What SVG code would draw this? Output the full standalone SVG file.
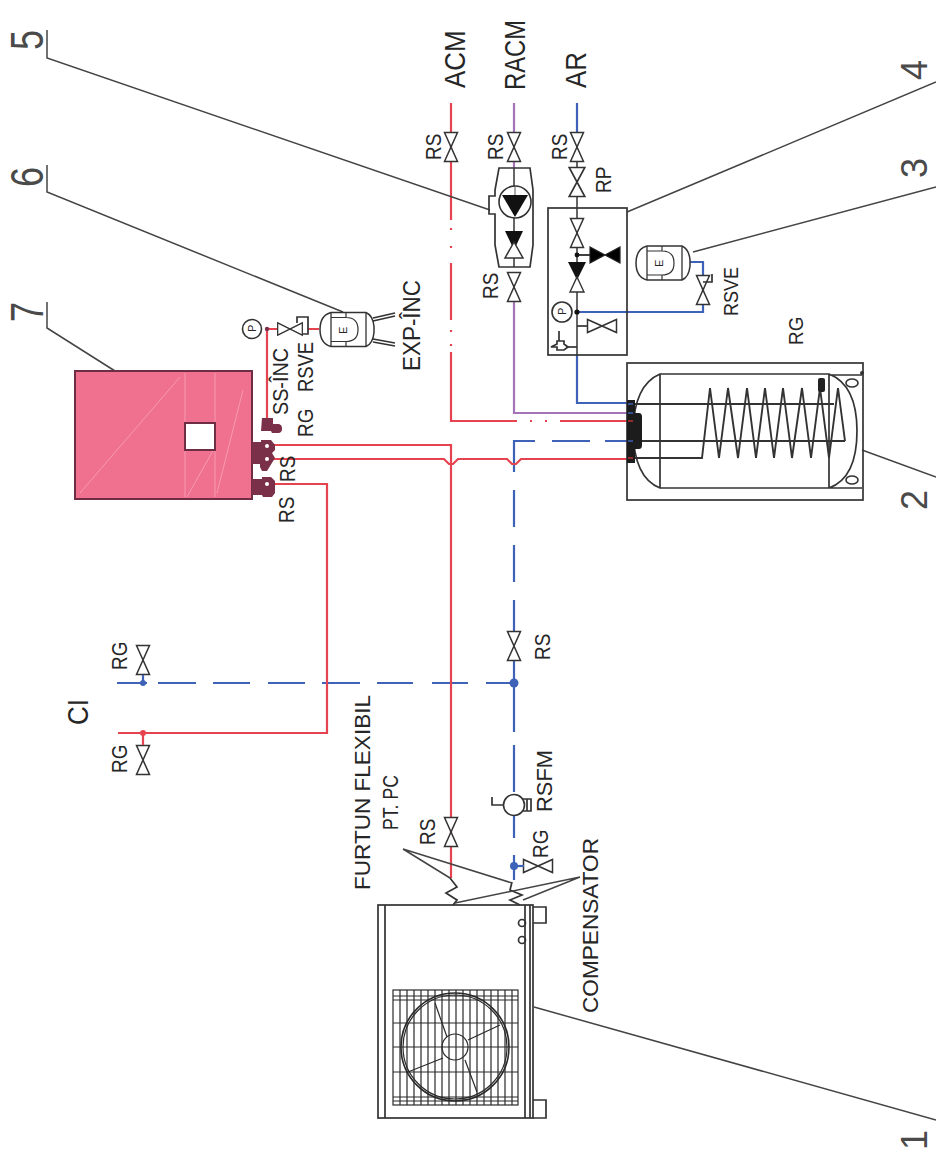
<svg xmlns="http://www.w3.org/2000/svg" width="936" height="1151" viewBox="0 0 936 1151">
<style>
text{font-family:"Liberation Sans",Arial,sans-serif;fill:#262626;font-size:19px}
.k{fill:none;stroke:#333;stroke-width:1.7}
.kf{fill:#fff;stroke:#333;stroke-width:1.6}
.l{fill:none;stroke:#444;stroke-width:1.5}
.r{fill:none;stroke:#e5434f;stroke-width:2.2}
.b{fill:none;stroke:#3d62b8;stroke-width:2.2}
.p{fill:none;stroke:#a474b8;stroke-width:2.2}
.m{fill:#7a3048}
.g{stroke:#2a2a2a;stroke-width:1.2;fill:none}
.big{font-size:26px}
.num{font-size:36px;fill:#4a4a4a}
</style>
<defs>
<g id="v"><path d="M-6.5-14.5H6.5L-6.5 14.5H6.5Z" fill="#fff" stroke="#333" stroke-width="1.5"/></g>
<g id="vk"><path d="M-8-15H8L-8 15H8Z" fill="#000" stroke="#222" stroke-width="1.2"/></g>
<g id="exp"><path d="M-15-17H20Q27-14 28-3V3Q27 14 20 17H-15Q-26 14-26 0Q-26-14-15-17Z" fill="#fff" stroke="#333" stroke-width="1.5"/><path d="M-15-17V17M20-17V17" stroke="#333" stroke-width="1.3"/><path d="M-15-12H0V-17M-15 12H0V17M0-12Q12-12 12 0Q12 12 0 12" fill="none" stroke="#333" stroke-width="1.2"/></g>
</defs>

<g id="connectors">
<path class="r" d="M451 103V220M451 263V320M451 352V421H517M560 421H627"/>
<path class="r" d="M451 228v2M451 246v2M451 330v2M451 344v2M530 421h2M545 421h2"/>
<path class="p" d="M514 103V132M514 162V168M514 302V413H627"/>
<path class="b" d="M577 103V132M577 355V403H627"/>
<path class="b" d="M577 312H703V262H688"/>
<path class="b" d="M535 441H514V472M552 441H590M605 441H627M514 490V527M514 545V582M514 600V632"/>
<path class="b" d="M117 683H147M158 683H196M213 683H250M268 683H305M322 683H360M377 683H413M432 683H468M486 683H514"/>
<path class="b" d="M514 660V732M514 745V792M514 814V838M514 855V880"/>
<path class="r" d="M272 445H451V878"/>
<path class="r" d="M272 459H444L449 464H453L458 459H507L512 464H516L521 459H627"/>
<path class="r" d="M272 484H327V733H118"/>
<path class="r" d="M267 418V329H278M308 329H319"/>
<path d="M450 878l7 9-11 6 11 7-4 5M512 882l-2 8 12 5-12 5 10 5" fill="none" stroke="#333" stroke-width="1.7"/>
<path class="l" d="M403 849L450 878M403 849L512 883M580 877L455 903M580 877L523 900"/>
<path class="l" d="M47 302V328L115 371M47 30V58L490 210M47 165V192L343 312M936 82L627 212M936 187L693 252M936 477L862 450M936 1120L534 1007"/>
</g>

<g id="boiler">
<rect x="75" y="371" width="177" height="128" fill="#f0708f" stroke="#6e2d45" stroke-width="2"/>
<path d="M80 493L180 377M187 497L215 447M217 493L243 390M185 373V497M215 373V497" stroke="#f79ab2" stroke-width="1" fill="none"/>
<rect x="185" y="423" width="30" height="27" fill="#fff" stroke="#6e2d45" stroke-width="2"/>
<path class="m" d="M262 418h11v6h6a4.500 4.500 0 0 1 3 4.500 4.500 4.500 0 0 1-3 4.500h-7l-1-2h-10zM252 442h9v-2h10l4 5v5l-3 3 3 5-8 13h-5l-2-4v-3h-8zM252 479h10v-2h9l4 4v12l-3 4h-9l-1-2h-10z"/>
<circle cx="267" cy="446" r="2" fill="#fff"/><circle cx="267" cy="459" r="2" fill="#fff"/><circle cx="267" cy="484" r="2" fill="#fff"/>
</g>

<g id="exp-inc">
<circle cx="252" cy="329" r="9.500" class="kf"/>
<text transform="translate(256 332) rotate(-90)" style="font-size:11px">P</text>
<circle cx="267" cy="329" r="2.200" fill="#7a3048"/>
<use href="#v" transform="translate(290 329) rotate(90) scale(.95 .85)"/>
<path class="k" d="M297 323V317H308V334H303"/>
<use href="#exp" transform="translate(346 329.500)"/>
<text transform="translate(347 334) rotate(-90)" style="font-size:11px">E</text>
<path d="M373 318L395 313M373 321L395 316M373 339L395 343M373 342L395 346" class="k"/>
</g>

<g id="storage-tank">
<rect x="627" y="363" width="236" height="137" class="k"/>
<path class="k" d="M633 431Q634 385 660 374H829Q857 385 857 431Q857 478 829 488H660Q634 478 633 431M660 374V488M829 374V488M829 375H862M829 488H862"/>
<path fill="none" stroke="#333" stroke-width="1.900" d="M627 404H834M627 441H845M627 458H702L710 388L719 458L728 388L738 458L747 388L756 458L765 388L774 458L783 388L792 458L802 388L811 458L820 388L829 458L838 388L845 441"/>
<ellipse cx="852" cy="383" rx="6" ry="4" class="kf"/><ellipse cx="852" cy="480" rx="6" ry="4" class="kf"/>
<rect x="818" y="378" width="7" height="14" rx="2" fill="#222"/>
<circle cx="862" cy="373" r="2" fill="#333"/>
<path fill="#1c1c1c" d="M627 400H635V413H639Q642 413 642 417V445Q642 449 639 449H635V463H627Z"/>
<path d="M628 404h5M628 413h5M628 441h5" stroke="#3d62b8" stroke-width="1.500"/>
<path d="M628 458h5M628 421h5" stroke="#b33" stroke-width="1.500"/>
</g>

<g id="pump-group">
<path class="k" d="M499 168H530L533 190V245L530 267H499L495 245V214H489V196H495V190Z"/>
<path d="M514 168V267" stroke="#333" stroke-width="1.500"/>
<circle cx="515" cy="202" r="16" class="kf"/>
<path d="M502 195H528L515 217Z" fill="#111"/>
<path d="M515 186V195" stroke="#555"/>
<path d="M505 231H523L514 250Z" fill="#111"/>
<path d="M514 242L523 258H505Z" fill="#fff" stroke="#333" stroke-width="1.500"/>
</g>

<g id="safety-group">
<rect x="548" y="208" width="79" height="147" class="k"/>
<path d="M577 162V355" stroke="#333" stroke-width="1.500"/>
<use href="#v" x="577" y="233"/>
<path d="M577 255H590" stroke="#111" stroke-width="1.600"/>
<use href="#vk" transform="translate(605 255) rotate(90)"/>
<circle cx="577" cy="255" r="2.400" fill="#111"/>
<path d="M568 262H586L577 280Z" fill="#111"/>
<path d="M577 277L584 292H570Z" fill="#fff" stroke="#333" stroke-width="1.400"/>
<circle cx="577" cy="312" r="2.600" fill="#111"/>
<circle cx="562" cy="312" r="10" class="kf"/>
<text transform="translate(566 315) rotate(-90)" style="font-size:11px">P</text>
<path d="M577 326H587" class="k"/>
<use href="#v" transform="translate(602 326) rotate(90)"/>
<path d="M577 347H566" class="k"/>
<path d="M551 347l6-3v-3h7v3l4 3-4 3h-7v-3zM559 341v-10" class="k"/>
</g>

<g id="expansion-tank-3">
<use href="#exp" transform="translate(662 263)"/>
<text transform="translate(663 267) rotate(-90)" style="font-size:11px">E</text>
</g>

<g id="heat-pump">
<rect x="378" y="905" width="155" height="213" class="k"/>
<path class="k" d="M385 905V1118M525 905V1118M530 905V1118"/>
<path class="k" d="M533 907H546V923H533M533 1100H546V1118H533"/>
<circle cx="522" cy="923" r="3.500" class="k"/><circle cx="522" cy="940" r="3.500" class="k"/>
<g class="g">
<rect x="393" y="990" width="125" height="115"/>
<path d="M400 990V1105M407 990V1105M414 990V1105M421 990V1105M428 990V1105M435 990V1105M442 990V1105M449 990V1105M456 990V1105M463 990V1105M470 990V1105M477 990V1105M484 990V1105M491 990V1105M498 990V1105M505 990V1105M512 990V1105"/>
<path d="M393 996H518M393 1000H518M393 1023H518M393 1047H518M393 1072H518M393 1097H518M393 1101H518"/>
<circle cx="455" cy="1047" r="54" stroke-width="1.600"/><circle cx="455" cy="1047" r="52"/>
<circle cx="455" cy="1047" r="13"/>
<path d="M435 1003L447 1037M500 1025L468 1040M408 1072L443 1058M477 1092L465 1060"/>
</g>
</g>

<g id="valves">
<use href="#v" x="451" y="147"/><use href="#v" x="514" y="147"/><use href="#v" x="577" y="147"/>
<use href="#v" transform="translate(577 182) scale(1.2 1)"/>
<use href="#v" x="514" y="287"/>
<use href="#v" x="703" y="290"/>
<path class="k" d="M703 282H712V274"/>
<use href="#v" x="143" y="660"/><use href="#v" x="143" y="760"/>
<use href="#v" x="514" y="646"/><use href="#v" x="451" y="832"/>
<use href="#v" transform="translate(538 866) rotate(90)"/>
<path class="b" d="M514 866H524"/>
<path class="b" d="M143 675V683"/><path class="r" d="M143 733V745"/>
<circle cx="143" cy="683" r="3" fill="#3d62b8"/><circle cx="143" cy="733" r="3" fill="#e5434f"/>
<circle cx="514" cy="683" r="4.500" fill="#3d62b8"/><circle cx="514" cy="866" r="4" fill="#3d62b8"/>
</g>

<g id="rsfm">
<circle cx="514" cy="805" r="10.500" class="kf"/>
<path class="k" d="M503 805H492V797M523 799h8v12h-8M527 799v12"/>
</g>

<g id="labels">
<text class="big" transform="translate(465 88) rotate(-90) scale(1 1.15)">ACM</text>
<text class="big" transform="translate(525 90) rotate(-90) scale(1 1.15)" textLength="70" lengthAdjust="spacingAndGlyphs">RACM</text>
<text class="big" transform="translate(586 88) rotate(-90) scale(1 1.15)" textLength="36" lengthAdjust="spacingAndGlyphs">AR</text>
<text class="big" transform="translate(88 725) rotate(-90) scale(1 1.15)">CI</text>
<text transform="translate(441 160) rotate(-90) scale(1 1.15)">RS</text>
<text transform="translate(503 160) rotate(-90) scale(1 1.15)">RS</text>
<text transform="translate(567 160) rotate(-90) scale(1 1.15)">RS</text>
<text transform="translate(611 193) rotate(-90) scale(1 1.15)">RP</text>
<text transform="translate(498 299) rotate(-90) scale(1 1.15)">RS</text>
<text transform="translate(738 316) rotate(-90) scale(1 1.1)" textLength="49" lengthAdjust="spacingAndGlyphs">RSVE</text>
<text transform="translate(803 345) rotate(-90) scale(1 1.1)">RG</text>
<text transform="translate(420 371) rotate(-90) scale(1 1.1)" style="font-size:22px" textLength="91" lengthAdjust="spacingAndGlyphs">EXP-ÎNC</text>
<text transform="translate(288 415) rotate(-90) scale(1 1.15)" textLength="67" lengthAdjust="spacingAndGlyphs">SS-ÎNC</text>
<text transform="translate(313 437) rotate(-90) scale(1 1.15)">RG</text>
<text transform="translate(313 392) rotate(-90) scale(1 1.15)" textLength="50" lengthAdjust="spacingAndGlyphs">RSVE</text>
<text transform="translate(295 482) rotate(-90) scale(1 1.15)">RS</text>
<text transform="translate(294 523) rotate(-90) scale(1 1.15)">RS</text>
<text transform="translate(127 670) rotate(-90) scale(1 1.15)">RG</text>
<text transform="translate(127 773) rotate(-90) scale(1 1.15)">RG</text>
<text transform="translate(550 660) rotate(-90) scale(1 1.15)">RS</text>
<text transform="translate(552 812) rotate(-90) scale(1 1.15)" textLength="62" lengthAdjust="spacingAndGlyphs">RSFM</text>
<text transform="translate(548 858) rotate(-90) scale(1 1.15)">RG</text>
<text transform="translate(435 845) rotate(-90) scale(1 1.15)">RS</text>
<text transform="translate(370 890) rotate(-90) scale(1 1.15)" textLength="195" lengthAdjust="spacingAndGlyphs">FURTUN FLEXIBIL</text>
<text transform="translate(398 830) rotate(-90) scale(1 1.15)" textLength="55" lengthAdjust="spacingAndGlyphs">PT. PC</text>
<text transform="translate(598 1013) rotate(-90) scale(1 1.15)" textLength="175" lengthAdjust="spacingAndGlyphs">COMPENSATOR</text>
<text class="num" transform="translate(43 50) rotate(-90) scale(1 1.27)">5</text>
<text class="num" transform="translate(43 187) rotate(-90) scale(1 1.27)">6</text>
<text class="num" transform="translate(43 322) rotate(-90) scale(1 1.27)">7</text>
<text class="num" transform="translate(927 80) rotate(-90)">4</text>
<text class="num" transform="translate(927 178) rotate(-90)">3</text>
<text class="num" transform="translate(927 510) rotate(-90)">2</text>
<text class="num" transform="translate(927 1150) rotate(-90)">1</text>
</g>
</svg>
